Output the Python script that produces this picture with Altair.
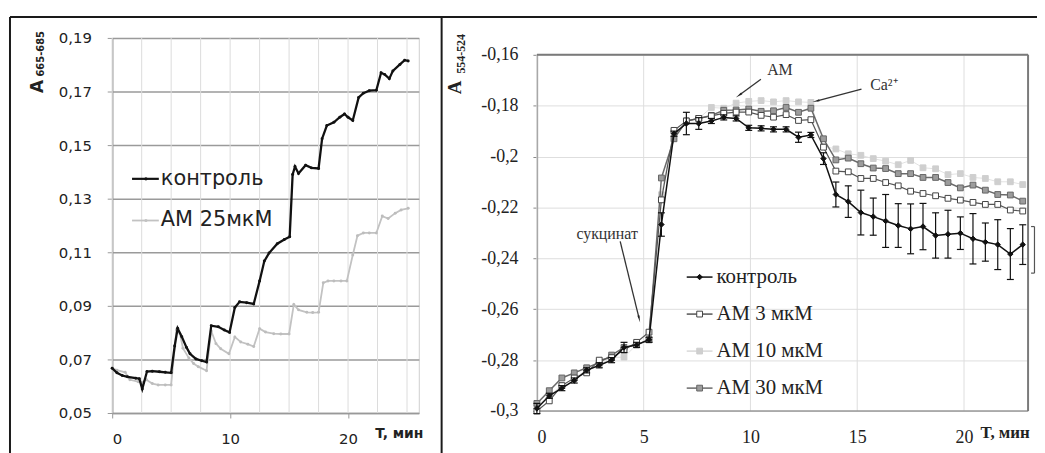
import altair as alt
import pandas as pd

# ---------------- left panel data ----------------
l_ctrl_t = [0, 0.4, 0.85, 1.3, 2.0, 2.3, 2.55, 2.95, 3.4, 4.0, 4.5, 5.0, 5.3, 5.55, 5.9,
            6.3, 6.6, 7.1, 7.6, 8.0, 8.4, 9.0, 9.5, 9.95, 10.4, 10.8, 11.4, 12.0, 12.5, 12.9,
            13.3, 14.0, 14.6, 15.05, 15.3, 15.5, 15.8, 16.4, 16.9, 17.5, 17.8, 18.2, 18.8, 19.3,
            19.7, 20.0, 20.4, 20.9, 21.3, 21.8, 22.4, 22.8, 23.1, 23.5, 23.8, 24.4, 24.8, 25.1]
l_ctrl_a = [0.0667, 0.065, 0.064, 0.0635, 0.063, 0.0628, 0.0590, 0.0655, 0.0656, 0.0654, 0.0652,
            0.065, 0.075, 0.0816, 0.0785, 0.0745, 0.0721, 0.0702, 0.0695, 0.069, 0.0826, 0.0822,
            0.081, 0.0801, 0.0894, 0.0915, 0.0912, 0.0907, 0.0993, 0.1067, 0.1097, 0.1132, 0.1148,
            0.1158, 0.139, 0.142, 0.1394, 0.1425, 0.1415, 0.1413, 0.1524, 0.1573, 0.1585, 0.1604,
            0.1616, 0.1604, 0.1592, 0.1678, 0.1694, 0.1703, 0.1705, 0.177, 0.1764, 0.1748, 0.1777,
            0.1801, 0.1817, 0.1814]
l_am_t = [0, 0.4, 1.1, 1.5, 2.2, 2.5, 2.9, 3.4, 3.9, 4.5, 5.0, 5.45, 5.75, 6.0, 6.5, 6.9, 7.3,
          8.0, 8.4, 8.8, 9.2, 9.9, 10.4, 10.9, 11.5, 12.0, 12.5, 13.0, 13.7, 14.3, 15.0, 15.4,
          15.8, 16.5, 17.0, 17.5, 17.9, 18.3, 18.8, 19.4, 19.9, 20.4, 20.8, 21.3, 21.8, 22.4,
          22.9, 23.4, 24.0, 24.5, 25.1]
l_am_a = [0.0667, 0.066, 0.0652, 0.0624, 0.0617, 0.0614, 0.0624, 0.061, 0.0605, 0.0605, 0.0605,
          0.081, 0.0796, 0.0742, 0.0705, 0.0685, 0.0673, 0.0658, 0.0806, 0.0759, 0.074, 0.0721,
          0.0784, 0.0765, 0.0757, 0.0748, 0.0815, 0.0802, 0.0796, 0.0795, 0.0795, 0.0905, 0.0885,
          0.0876, 0.0875, 0.0876, 0.0986, 0.0993, 0.0993, 0.0993, 0.0993, 0.1090, 0.1162, 0.1172,
          0.1172, 0.1172, 0.1235, 0.1226, 0.1246, 0.1258, 0.1264]
l_ygrid = [0.05, 0.07, 0.09, 0.11, 0.13, 0.15, 0.17, 0.19]
l_xgrid = [0, 2.5, 5, 7.5, 10, 12.5, 15, 17.5, 20, 22.5, 25]
l_xlabels = [0, 10, 20]
l_names = ["контроль", "АМ 25мкМ"]

# ---------------- right panel data ----------------
r_t = [0, 0.58, 1.17, 1.75, 2.33, 2.92, 3.5, 4.08, 4.67, 5.25, 5.83, 6.42, 7.0, 7.58, 8.17,
       8.75, 9.33, 9.92, 10.5, 11.08, 11.67, 12.25, 12.83, 13.42, 14.0, 14.58, 15.17, 15.75,
       16.33, 16.92, 17.5, 18.08, 18.67, 19.25, 19.83, 20.42, 21.0, 21.58, 22.17, 22.75]
r_ctrl = [-0.299, -0.294, -0.291, -0.288, -0.284, -0.282, -0.280, -0.275, -0.274, -0.272,
          -0.2267, -0.191, -0.187, -0.187, -0.186, -0.1846, -0.185, -0.1887, -0.1889, -0.1893,
          -0.1893, -0.1924, -0.1915, -0.2008, -0.2149, -0.2177, -0.222, -0.2236, -0.2253, -0.2271,
          -0.2284, -0.2275, -0.231, -0.2305, -0.2301, -0.2323, -0.2336, -0.2346, -0.2383, -0.2346]
r_ctrl_err = [0.002, 0.001, 0.001, 0.001, 0.001, 0.001, 0.001, 0.002, 0.001, 0.001,
              0.0046, 0.001, 0.0044, 0.0023, 0.001, 0.001, 0.001, 0.001, 0.001, 0.001,
              0.001, 0.002, 0.001, 0.0023, 0.0049, 0.0062, 0.0088, 0.0073, 0.0104, 0.0086,
              0.0098, 0.0091, 0.0089, 0.0094, 0.0064, 0.0099, 0.0075, 0.0098, 0.010, 0.0078]
r_am3 = [-0.300, -0.296, -0.290, -0.287, -0.285, -0.280, -0.279, -0.276, -0.273, -0.269,
         -0.217, -0.1897, -0.186, -0.185, -0.184, -0.183, -0.1825, -0.1825, -0.1838, -0.1845,
         -0.1835, -0.1858, -0.1855, -0.1963, -0.2057, -0.206, -0.2086, -0.2086, -0.2102, -0.2115,
         -0.2136, -0.2145, -0.2154, -0.2164, -0.2171, -0.218, -0.2188, -0.2188, -0.221, -0.2214]
r_am10 = [-0.298, -0.294, -0.290, -0.287, -0.284, -0.282, -0.279, -0.2788, -0.274, -0.272,
          -0.215, -0.190, -0.186, -0.185, -0.1807, -0.181, -0.179, -0.1783, -0.178, -0.1785,
          -0.178, -0.1785, -0.1787, -0.196, -0.197, -0.1989, -0.1995, -0.2008, -0.2018, -0.2032,
          -0.2015, -0.2044, -0.2048, -0.2071, -0.2067, -0.2082, -0.2086, -0.2099, -0.2099, -0.211]
r_am30 = [-0.297, -0.292, -0.287, -0.285, -0.283, -0.281, -0.278, -0.275, -0.274, -0.272,
          -0.2084, -0.193, -0.186, -0.185, -0.1838, -0.1818, -0.1817, -0.1813, -0.1822, -0.182,
          -0.1807, -0.1826, -0.181, -0.193, -0.2013, -0.2006, -0.2028, -0.2045, -0.2047, -0.2067,
          -0.2067, -0.2082, -0.2082, -0.2102, -0.2123, -0.2112, -0.2132, -0.2149, -0.2151, -0.2175]
r_ygrid = [-0.3, -0.28, -0.26, -0.24, -0.22, -0.2, -0.18, -0.16]
r_xlabels = [0, 5, 10, 15, 20]
r_names = ["контроль", "АМ 3 мкМ", "АМ 10 мкМ", "АМ 30 мкМ"]
# annotations: (label, text x, text y, arrow from x, from y, to x, to y)
r_notes = [("АМ", 11.38, -0.1661, 10.49, -0.1696, 9.5, -0.1757),
           ("Ca²⁺", 16.25, -0.1719, 15.2, -0.1735, 13.12, -0.1781),
           ("сукцинат", 3.29, -0.2306, 3.9, -0.2333, 4.78, -0.2634)]
r_head_angle = [234, 256, 166]
# bracket beside the right frame: x of serif start, x of bar, y top, y bottom
r_bracket = (23.14, 23.3, -0.2275, -0.2458)

one = pd.DataFrame({"k": [0]})
FL = "DejaVu Sans"
FR = "Liberation Serif"


def txt(x, y, s, font, size, bold=False, angle=0, align="left", color="#222"):
    return alt.Chart(one).mark_text(
        text=s, font=font, fontSize=size, fontWeight="bold" if bold else "normal",
        angle=angle, align=align, baseline="middle", color=color
    ).encode(x=alt.value(x), y=alt.value(y))


# ---------------- left panel ----------------
xL = alt.Scale(domain=[0, 26], nice=False)
yL = alt.Scale(domain=[0.05, 0.19], nice=False)
axXL = alt.Axis(values=l_xlabels, grid=False, labelFont=FL, labelFontSize=15, labelColor="#222",
                tickSize=5, tickColor="#999", domainColor="#999", domainWidth=1.5,
                labelPadding=14, title=None, labelAngle=0)
axYL = alt.Axis(values=l_ygrid, grid=True, gridColor="#9a9a9a", gridWidth=1.5, labelFont=FL,
                labelFontSize=15, labelColor="#222", tickSize=5, tickColor="#999",
                domainColor="#999", domainWidth=1.5, labelPadding=16, title=None,
                labelExpr="replace(format(datum.value, '.2f'), '.', ',')")


def XL(f):
    return alt.X(f"{f}:Q", scale=xL, axis=axXL)


def YL(f):
    return alt.Y(f"{f}:Q", scale=yL, axis=axYL)


l_vgrid = alt.Chart(pd.DataFrame({"t": l_xgrid})).mark_rule(color="#dcdcdc", strokeWidth=1).encode(x=XL("t"))
l_am = alt.Chart(pd.DataFrame({"t": l_am_t, "a": l_am_a})).mark_line(
    color="#c2c2c2", strokeWidth=1.8,
    point=alt.OverlayMarkDef(color="#bdbdbd", size=9, filled=True, opacity=1)
).encode(x=XL("t"), y=YL("a"))
l_ctrl = alt.Chart(pd.DataFrame({"t": l_ctrl_t, "a": l_ctrl_a})).mark_line(
    color="#111", strokeWidth=2.3,
    point=alt.OverlayMarkDef(color="#111", size=9, filled=True, opacity=1)
).encode(x=XL("t"), y=YL("a"))

frame_color = "#1a1a1a"
l_frame_top = alt.Chart(one).mark_rule(color=frame_color, strokeWidth=2).encode(
    x=alt.value(-103), x2=alt.value(940), y=alt.value(-21))
l_frame_left = alt.Chart(one).mark_rule(color=frame_color, strokeWidth=2).encode(
    x=alt.value(-103), y=alt.value(-21), y2=alt.value(425))
l_frame_mid = alt.Chart(one).mark_rule(color=frame_color, strokeWidth=2).encode(
    x=alt.value(332), y=alt.value(-21), y2=alt.value(425))

l_leg = []
for i, (nm, col) in enumerate(zip(l_names, ["#111", "#c2c2c2"])):
    yy = 142 + 42 * i
    l_leg.append(alt.Chart(one).mark_rule(color=col, strokeWidth=2.2 if i == 0 else 1.8).encode(
        x=alt.value(20), x2=alt.value(47), y=alt.value(yy)))
    l_leg.append(alt.Chart(one).mark_point(filled=True, color=col, size=10, opacity=1).encode(
        x=alt.value(34), y=alt.value(yy)))
    l_leg.append(txt(49, yy, nm, FL, 21))

left = alt.layer(
    l_vgrid, l_am, l_ctrl, *l_leg,
    txt(-75, 49, "A", FL, 17, bold=True, angle=270, align="center"),
    txt(-72, 16, "665-685", FL, 10, bold=True, angle=270, align="center"),
    txt(265, 399, "T, мин", FL, 14, bold=True),
    l_frame_top, l_frame_left, l_frame_mid,
).properties(width=309, height=378, view=alt.ViewBackground(stroke="#d0d0d0", strokeWidth=1))

# ---------------- right panel ----------------
xR = alt.Scale(domain=[0, 23], nice=False)
yR = alt.Scale(domain=[-0.3, -0.16], nice=False, range=[376, 17])
axXR = alt.Axis(values=r_xlabels, grid=False, domain=False, ticks=False, labelFont=FR,
                labelFontSize=18, labelColor="#222", labelPadding=16, title=None, labelAngle=0)
axYR = alt.Axis(values=r_ygrid, grid=True, gridColor="#dedede", gridWidth=1, labelFont=FR,
                labelFontSize=18, labelColor="#222", tickSize=4, tickColor="#888",
                domainColor="#888", domainWidth=1.5, labelPadding=15, title=None,
                labelExpr="replace(replace(format(datum.value, '.2~f'), '.', ','), '−', '-')")


def XR(f):
    return alt.X(f"{f}:Q", scale=xR, axis=axXR)


def YR(f):
    return alt.Y(f"{f}:Q", scale=yR, axis=axYR)


ymin, ymax = r_ygrid[0], r_ygrid[-1]
xmin, xmax = 0, 23
r_vgrid = alt.Chart(pd.DataFrame({"t": r_xlabels, "y0": ymin, "y1": ymax})).mark_rule(
    color="#dedede", strokeWidth=1).encode(x=XR("t"), y=YR("y0"), y2=alt.Y2("y1:Q"))
r_top = alt.Chart(pd.DataFrame({"x0": [xmin], "x1": [xmax], "y": [ymax]})).mark_rule(
    color="#7a7a7a", strokeWidth=2).encode(x=XR("x0"), x2=alt.X2("x1:Q"), y=YR("y"))
r_bot = alt.Chart(pd.DataFrame({"x0": [xmin], "x1": [xmax], "y": [ymin]})).mark_rule(
    color="#999", strokeWidth=1.5).encode(x=XR("x0"), x2=alt.X2("x1:Q"), y=YR("y"))
r_right = alt.Chart(pd.DataFrame({"x": [xmax], "y0": [ymin], "y1": [ymax]})).mark_rule(
    color="#7a7a7a", strokeWidth=2).encode(x=XR("x"), y=YR("y0"), y2=alt.Y2("y1:Q"))

styles = {
    "am10": dict(line="#e2e2e2", lw=1.0, shape="square", fill="#cfcfcf", stroke="#cfcfcf", size=34),
    "am30": dict(line="#6a6a6a", lw=1.5, shape="square", fill="#9c9c9c", stroke="#666", size=34),
    "am3": dict(line="#555", lw=1.2, shape="square", fill="white", stroke="#444", size=34),
    "ctrl": dict(line="#111", lw=1.5, shape="diamond", fill="#111", stroke="#111", size=30),
}


def series(vals, st):
    df = pd.DataFrame({"t": r_t, "v": vals})
    ln = alt.Chart(df).mark_line(color=st["line"], strokeWidth=st["lw"]).encode(x=XR("t"), y=YR("v"))
    pt = alt.Chart(df).mark_point(shape=st["shape"], filled=True, fill=st["fill"], stroke=st["stroke"],
                                  strokeWidth=1, size=st["size"], opacity=1).encode(x=XR("t"), y=YR("v"))
    return [ln, pt]


err_df = pd.DataFrame({"t": r_t, "v": r_ctrl, "e": r_ctrl_err})
err_df["lo"] = err_df["v"] - err_df["e"]
err_df["hi"] = err_df["v"] + err_df["e"]
r_err = alt.Chart(err_df).mark_rule(color="#111", strokeWidth=1.2).encode(
    x=XR("t"), y=YR("lo"), y2=alt.Y2("hi:Q"))
r_cap_lo = alt.Chart(err_df).mark_tick(color="#111", orient="horizontal", size=7, thickness=1.2,
                                       opacity=1).encode(x=XR("t"), y=YR("lo"))
r_cap_hi = alt.Chart(err_df).mark_tick(color="#111", orient="horizontal", size=7, thickness=1.2,
                                       opacity=1).encode(x=XR("t"), y=YR("hi"))

note_layers = []
for (lab, tx, ty, ax0, ay0, ax1, ay1), ang in zip(r_notes, r_head_angle):
    d = pd.DataFrame({"tx": [tx], "ty": [ty], "x0": [ax0], "y0": [ay0], "x1": [ax1], "y1": [ay1]})
    note_layers.append(alt.Chart(d).mark_text(text=lab, font=FR, fontSize=16, color="#333",
                                              align="center", baseline="middle").encode(
        x=XR("tx"), y=YR("ty")))
    note_layers.append(alt.Chart(d).mark_rule(color="#333", strokeWidth=1.3).encode(
        x=XR("x0"), y=YR("y0"), x2=alt.X2("x1:Q"), y2=alt.Y2("y1:Q")))
    note_layers.append(alt.Chart(d).mark_point(shape="wedge", filled=True, color="#222", size=70,
                                               angle=ang, opacity=1).encode(x=XR("x1"), y=YR("y1")))

bx0, bx1, by0, by1 = r_bracket
brk_df = pd.DataFrame({"xa": [bx1, bx0, bx0], "xb": [bx1, bx1, bx1],
                       "ya": [by0, by0, by1], "yb": [by1, by0, by1]})
brk = alt.Chart(brk_df).mark_rule(color="#555", strokeWidth=1.2).encode(
    x=XR("xa"), x2=alt.X2("xb:Q"), y=YR("ya"), y2=alt.Y2("yb:Q"))

r_leg = []
leg_keys = ["ctrl", "am3", "am10", "am30"]
for i, (nm, key) in enumerate(zip(r_names, leg_keys)):
    st = styles[key]
    yy = 241 + 37.3 * i
    r_leg.append(alt.Chart(one).mark_rule(color=st["line"] if key != "am10" else "#d8d8d8",
                                          strokeWidth=1.5).encode(
        x=alt.value(151), x2=alt.value(177), y=alt.value(yy)))
    r_leg.append(alt.Chart(one).mark_point(shape=st["shape"], filled=True, fill=st["fill"],
                                           stroke=st["stroke"], strokeWidth=1, size=st["size"],
                                           opacity=1).encode(x=alt.value(164), y=alt.value(yy)))
    r_leg.append(txt(181, yy, nm, FR, 21))

right = alt.layer(
    r_vgrid, r_bot,
    *series(r_am10, styles["am10"]),
    *series(r_am30, styles["am30"]),
    *series(r_am3, styles["am3"]),
    r_err, r_cap_lo, r_cap_hi,
    *series(r_ctrl, styles["ctrl"]),
    r_top, r_right, brk,
    *note_layers, *r_leg,
    txt(-82, 50, "A", FR, 19, bold=True, angle=270, align="center"),
    txt(-76, 16, "554-524", FR, 12, bold=True, angle=270, align="center"),
    txt(447, 398, "T, мин", FR, 17, bold=True),
).properties(width=495, height=378, view=alt.ViewBackground(stroke=None))

chart = alt.hconcat(left, right, spacing=119, bounds="flush").properties(
    autosize=alt.AutoSizeParams(type="none"),
    padding={"left": 105, "top": 27, "right": 932, "bottom": 410},
).configure(background="white")

chart.save("out.html", embed_options={"renderer": "svg", "actions": False})
